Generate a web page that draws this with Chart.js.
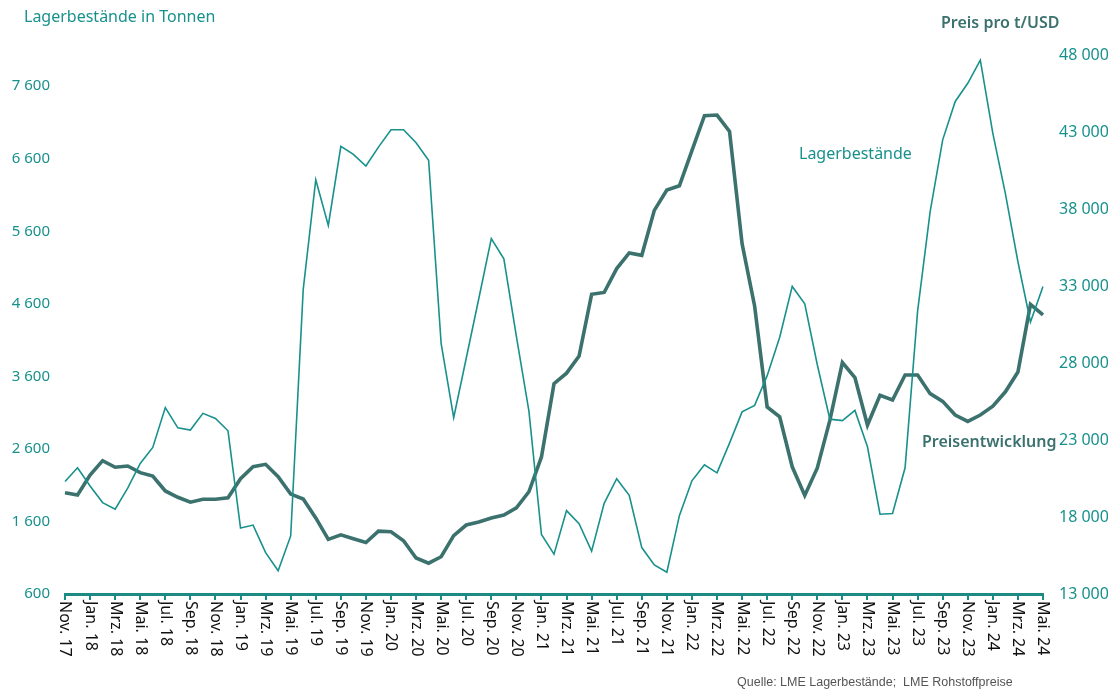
<!DOCTYPE html>
<html lang="de">
<head>
<meta charset="utf-8">
<title>Lagerbestände und Preisentwicklung</title>
<script src="https://cdn.jsdelivr.net/npm/chart.js@4.4.1/dist/chart.umd.min.js"></script>
<style>
  html, body { margin: 0; padding: 0; background: #fff; }
  #wrap { width: 1108px; height: 690px; position: relative; }
</style>
</head>
<body>
<div id="wrap"><canvas id="chart"></canvas></div>
<script>
// Monatswerte Nov. 17 bis Mai. 24
const months = [
  'Nov. 17', 'Dez. 17',
  'Jan. 18', 'Feb. 18', 'Mrz. 18', 'Apr. 18', 'Mai. 18', 'Jun. 18', 'Jul. 18', 'Aug. 18', 'Sep. 18', 'Okt. 18', 'Nov. 18', 'Dez. 18',
  'Jan. 19', 'Feb. 19', 'Mrz. 19', 'Apr. 19', 'Mai. 19', 'Jun. 19', 'Jul. 19', 'Aug. 19', 'Sep. 19', 'Okt. 19', 'Nov. 19', 'Dez. 19',
  'Jan. 20', 'Feb. 20', 'Mrz. 20', 'Apr. 20', 'Mai. 20', 'Jun. 20', 'Jul. 20', 'Aug. 20', 'Sep. 20', 'Okt. 20', 'Nov. 20', 'Dez. 20',
  'Jan. 21', 'Feb. 21', 'Mrz. 21', 'Apr. 21', 'Mai. 21', 'Jun. 21', 'Jul. 21', 'Aug. 21', 'Sep. 21', 'Okt. 21', 'Nov. 21', 'Dez. 21',
  'Jan. 22', 'Feb. 22', 'Mrz. 22', 'Apr. 22', 'Mai. 22', 'Jun. 22', 'Jul. 22', 'Aug. 22', 'Sep. 22', 'Okt. 22', 'Nov. 22', 'Dez. 22',
  'Jan. 23', 'Feb. 23', 'Mrz. 23', 'Apr. 23', 'Mai. 23', 'Jun. 23', 'Jul. 23', 'Aug. 23', 'Sep. 23', 'Okt. 23', 'Nov. 23', 'Dez. 23',
  'Jan. 24', 'Feb. 24', 'Mrz. 24', 'Apr. 24', 'Mai. 24'
];

// Lagerbestände in Tonnen (linke Achse)
const stocks = [
  2150, 2340,
  2090, 1860, 1770, 2060, 2400, 2620, 3170, 2890, 2860, 3090, 3020, 2850,
  1510, 1550, 1170, 920, 1400, 4800, 6310, 5680, 6770, 6660, 6500, 6760,
  7000, 7000, 6820, 6580, 4050, 3030, 3850, 4670, 5500, 5220, 4150, 3120,
  1420, 1150, 1750, 1570, 1190, 1850, 2190, 1960, 1240, 1000, 900, 1680,
  2160, 2380, 2270, 2680, 3110, 3200, 3610, 4140, 4840, 4600, 3760, 3010,
  2990, 3130, 2630, 1700, 1710, 2340, 4500, 5870, 6860, 7390, 7640, 7960,
  6950, 6120, 5180, 4350, 4840
];

// Preis pro t in USD (rechte Achse)
const price = [
  19580, 19430,
  20730, 21660, 21230, 21310, 20880, 20660, 19690, 19280, 18960, 19150, 19150, 19250,
  20490, 21270, 21420, 20620, 19490, 19170, 17940, 16550, 16840, 16590, 16340, 17080,
  17040, 16460, 15340, 15000, 15420, 16790, 17480, 17670, 17940, 18130, 18590, 19640,
  21900, 26660, 27340, 28450, 32460, 32580, 34130, 35150, 34990, 37910, 39230, 39510,
  41790, 44060, 44100, 43040, 35750, 31700, 25140, 24510, 21260, 19400, 21190, 24270,
  28030, 27060, 23970, 25900, 25600, 27220, 27220, 26010, 25510, 24620, 24210, 24620,
  25200, 26130, 27410, 31810, 31120
];

const stockTicks = [600, 1600, 2600, 3600, 4600, 5600, 6600, 7600];
const priceTicks = [13000, 18000, 23000, 28000, 33000, 38000, 43000, 48000];

const teal = '#18918c';
const dark = '#3b726e';
const axisTeal = '#1d8a86';

const fmt = (v) => String(v).replace(/\B(?=(\d{3})+(?!\d))/g, ' ');

// eigene Beschriftungen: gedrehte Monatslabels, Achsentitel, Quelle
const textPlugin = {
  id: 'texts',
  afterDraw(chart) {
    const { ctx } = chart;
    const x = chart.scales.x;
    const bottom = chart.chartArea.bottom;

    ctx.save();
    ctx.fillStyle = '#111';
    ctx.font = '16px "Noto Sans", sans-serif';
    ctx.textAlign = 'left';
    ctx.textBaseline = 'middle';
    x.ticks.forEach((t, i) => {
      const px = x.getPixelForTick(i);
      ctx.save();
      ctx.translate(px, bottom + 7);
      ctx.rotate(Math.PI / 2);
      ctx.fillText(x.getLabelForValue(t.value), 0, 0);
      ctx.restore();
    });
    ctx.restore();

    ctx.save();
    ctx.textBaseline = 'middle';
    ctx.textAlign = 'left';
    ctx.fillStyle = teal;
    ctx.font = '16px "Noto Sans", sans-serif';
    ctx.fillText('Lagerbestände in Tonnen', 24, 17);
    ctx.fillText('Lagerbestände', 799, 154);

    ctx.fillStyle = dark;
    ctx.font = '600 16px "Noto Sans", sans-serif';
    ctx.fillText('Preis pro t/USD', 941, 23);
    ctx.fillText('Preisentwicklung', 922, 442);

    ctx.fillStyle = '#555';
    ctx.font = '12.5px "Liberation Sans", Arial, sans-serif';
    ctx.fillText('Quelle: LME Lagerbestände;  LME Rohstoffpreise', 737, 683);
    ctx.restore();
  },
};

new Chart(document.getElementById('chart'), {
  type: 'line',
  data: {
    labels: months,
    datasets: [
      {
        label: 'Lagerbestände',
        data: stocks,
        yAxisID: 'yL',
        borderColor: teal,
        borderWidth: 1.6,
        pointRadius: 0,
        tension: 0,
        fill: false,
      },
      {
        label: 'Preisentwicklung',
        data: price,
        yAxisID: 'yR',
        borderColor: dark,
        borderWidth: 3.6,
        pointRadius: 0,
        tension: 0,
        fill: false,
      },
    ],
  },
  options: {
    responsive: true,
    maintainAspectRatio: false,
    animation: false,
    layout: { padding: { top: 55, left: 0, right: 0, bottom: 0 } },
    plugins: {
      legend: { display: false },
      tooltip: { enabled: false },
    },
    scales: {
      x: {
        offset: false,
        ticks: { display: false, autoSkip: false },
        grid: {
          display: true,
          drawOnChartArea: false,
          drawTicks: true,
          tickLength: 6,
          color: axisTeal,
          lineWidth: 2,
          offset: false,
        },
        border: { display: true, color: axisTeal, width: 3 },
        afterBuildTicks: (s) => {
          s.ticks = s.ticks.filter((t, i) => i % 2 === 0);
        },
        afterFit: (s) => { s.height = 96; },
      },
      yL: {
        position: 'left',
        min: 600,
        max: 8030,
        grid: { display: false, drawTicks: false },
        border: { display: false },
        ticks: {
          color: teal,
          padding: 15,
          font: { family: '"Noto Sans", sans-serif', size: 15 },
          callback: (v) => fmt(v),
        },
        afterBuildTicks: (s) => {
          s.ticks = stockTicks.map((v) => ({ value: v }));
        },
        afterFit: (s) => { s.width = 65; },
      },
      yR: {
        position: 'right',
        min: 13000,
        max: 48000,
        grid: { display: false, drawTicks: false },
        border: { display: false },
        ticks: {
          color: teal,
          padding: 16,
          font: { family: '"Noto Sans", sans-serif', size: 16 },
          callback: (v) => fmt(v),
        },
        afterBuildTicks: (s) => {
          s.ticks = priceTicks.map((v) => ({ value: v }));
        },
        afterFit: (s) => { s.width = 65; },
      },
    },
  },
  plugins: [textPlugin],
});
</script>
</body>
</html>
